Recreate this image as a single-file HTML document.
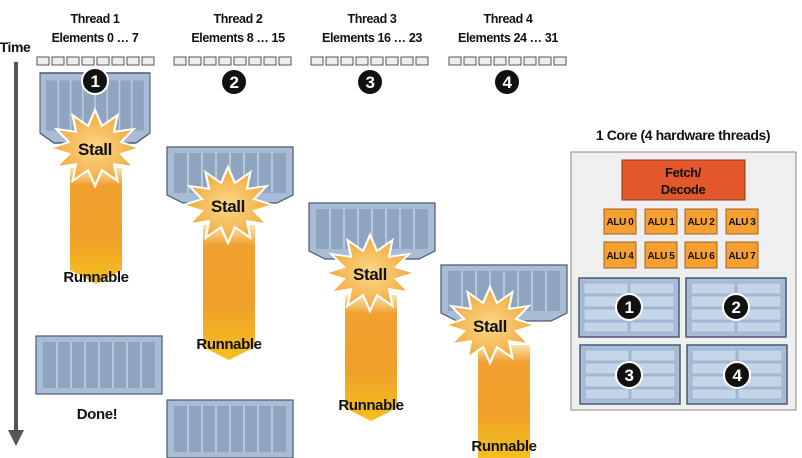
<!DOCTYPE html>
<html><head><meta charset="utf-8"><style>
html,body{margin:0;padding:0;background:#fff}
svg{display:block}
text{font-family:"Liberation Sans",sans-serif;font-weight:bold;fill:#111;letter-spacing:-0.4px}
</style></head><body>
<svg width="802" height="458" viewBox="0 0 802 458" xmlns="http://www.w3.org/2000/svg">
<defs>
<linearGradient id="bar" x1="0" y1="0" x2="0" y2="1">
<stop offset="0" stop-color="#fbe3b0"/><stop offset="0.15" stop-color="#f0a030"/><stop offset="0.6" stop-color="#f0a028"/><stop offset="1" stop-color="#f5c020"/>
</linearGradient>
<radialGradient id="st" cx="0.5" cy="0.5" r="0.5">
<stop offset="0" stop-color="#fbd98a"/><stop offset="1" stop-color="#f1a83a"/>
</radialGradient>
<g id="star"><polygon points="40,0 23.2,6.2 34.6,20 17,17 20,34.6 6.2,23.2 0,40 -6.2,23.2 -20,34.6 -17,17 -34.6,20 -23.2,6.2 -40,0 -23.2,-6.2 -34.6,-20 -17,-17 -20,-34.6 -6.2,-23.2 0,-40 6.2,-23.2 20,-34.6 17,-17 34.6,-20 23.2,-6.2" fill="url(#st)" stroke="#fff" stroke-width="2" transform="scale(1.12,0.95)"/><text x="0" y="7" font-size="17" text-anchor="middle">Stall</text></g>
<g id="blk">
<path d="M0,0H126V48L110,56H16L0,48Z" fill="#a8bcd6" stroke="#4a5a70" stroke-width="1.2"/>
<rect x="7" y="6" width="112" height="40" fill="#8ea4bf"/>
<g stroke="#b7c8dd" stroke-width="2"><line x1="21" y1="6" x2="21" y2="46"/><line x1="35" y1="6" x2="35" y2="46"/><line x1="49" y1="6" x2="49" y2="46"/><line x1="63" y1="6" x2="63" y2="46"/><line x1="77" y1="6" x2="77" y2="46"/><line x1="91" y1="6" x2="91" y2="46"/><line x1="105" y1="6" x2="105" y2="46"/></g>
</g>
<g id="rect2">
<rect x="0" y="0" width="126" height="58" fill="#a8bcd6" stroke="#4a5a70" stroke-width="1.2"/>
<rect x="7" y="6" width="112" height="46" fill="#8ea4bf"/>
<g stroke="#b7c8dd" stroke-width="2"><line x1="21" y1="6" x2="21" y2="52"/><line x1="35" y1="6" x2="35" y2="52"/><line x1="49" y1="6" x2="49" y2="52"/><line x1="63" y1="6" x2="63" y2="52"/><line x1="77" y1="6" x2="77" y2="52"/><line x1="91" y1="6" x2="91" y2="52"/><line x1="105" y1="6" x2="105" y2="52"/></g>
</g>
<g id="sq"><g fill="#eee" stroke="#555" stroke-width="1"><rect x="0" y="0" width="12" height="8"/><rect x="15" y="0" width="12" height="8"/><rect x="30" y="0" width="12" height="8"/><rect x="45" y="0" width="12" height="8"/><rect x="60" y="0" width="12" height="8"/><rect x="75" y="0" width="12" height="8"/><rect x="90" y="0" width="12" height="8"/><rect x="105" y="0" width="12" height="8"/></g></g>
<g id="reg">
<rect x="0" y="0" width="100" height="59" fill="#a8bcd6" stroke="#4a5a70" stroke-width="1.5"/>
<g fill="#c5d5e8" stroke="#98aecb" stroke-width="0.8">
<rect x="5" y="5" width="44" height="11"/><rect x="51" y="5" width="44" height="11"/>
<rect x="5" y="18" width="44" height="11"/><rect x="51" y="18" width="44" height="11"/>
<rect x="5" y="31" width="44" height="11"/><rect x="51" y="31" width="44" height="11"/>
<rect x="5" y="44" width="44" height="10"/><rect x="51" y="44" width="44" height="10"/>
</g></g>
</defs>

<text x="15" y="52" font-size="14" text-anchor="middle">Time</text>
<line x1="16" y1="62" x2="16" y2="432" stroke="#555" stroke-width="4"/>
<polygon points="8,430 24,430 16,446" fill="#555"/>

<g font-size="12.5" text-anchor="middle">
<text x="95" y="23">Thread 1</text><text x="95" y="42">Elements 0 … 7</text>
<text x="238" y="23">Thread 2</text><text x="238" y="42">Elements 8 … 15</text>
<text x="372" y="23">Thread 3</text><text x="372" y="42">Elements 16 … 23</text>
<text x="508" y="23">Thread 4</text><text x="508" y="42">Elements 24 … 31</text>
</g>
<use href="#sq" x="37" y="57"/><use href="#sq" x="174" y="57"/><use href="#sq" x="311" y="57"/><use href="#sq" x="449" y="57"/>

<path d="M70,168H122V270L96,284L70,270Z" fill="url(#bar)"/>
<use href="#blk" transform="translate(40,73) scale(0.873,1.25)"/>
<use href="#star" x="95" y="148"/>
<text x="96" y="282" font-size="15" text-anchor="middle">Runnable</text>
<use href="#rect2" x="36" y="336"/>
<text x="97" y="419" font-size="15" text-anchor="middle">Done!</text>

<path d="M203,225H255V347L229,360L203,347Z" fill="url(#bar)"/>
<use href="#blk" x="167" y="147"/>
<use href="#star" x="228" y="205"/>
<text x="229" y="349" font-size="15" text-anchor="middle">Runnable</text>
<use href="#rect2" x="167" y="400"/>

<path d="M345,295H397V408L371,421L345,408Z" fill="url(#bar)"/>
<use href="#blk" x="309" y="203"/>
<use href="#star" x="370" y="273"/>
<text x="371" y="410" font-size="15" text-anchor="middle">Runnable</text>

<path d="M478,345H530V458H478Z" fill="url(#bar)"/>
<use href="#blk" x="441" y="265"/>
<use href="#star" x="490" y="325"/>
<text x="504" y="451" font-size="15" text-anchor="middle">Runnable</text>

<g fill="#111" stroke="#fff" stroke-width="2">
<circle cx="95" cy="81" r="13"/><circle cx="234" cy="82" r="13"/><circle cx="370" cy="82" r="13"/><circle cx="507" cy="82" r="13"/>
</g>
<g font-size="17" text-anchor="middle">
<text x="95" y="87" style="fill:#fff">1</text><text x="234" y="88" style="fill:#fff">2</text><text x="370" y="88" style="fill:#fff">3</text><text x="507" y="88" style="fill:#fff">4</text>
</g>

<text x="683" y="140" font-size="14" text-anchor="middle">1 Core (4 hardware threads)</text>
<rect x="571" y="152" width="225" height="258" fill="#efefef" stroke="#999" stroke-width="1.2"/>
<rect x="622" y="160" width="123" height="40" fill="#e2582a" stroke="#8a3a1a"/>
<text x="683" y="177" font-size="13" text-anchor="middle">Fetch/</text>
<text x="683" y="194" font-size="13" text-anchor="middle">Decode</text>
<g fill="#f5a030" stroke="#a06020">
<rect x="604" y="209" width="32" height="25"/><rect x="645" y="209" width="32" height="25"/><rect x="685" y="209" width="32" height="25"/><rect x="726" y="209" width="32" height="25"/>
<rect x="604" y="242" width="32" height="26"/><rect x="645" y="242" width="32" height="26"/><rect x="685" y="242" width="32" height="26"/><rect x="726" y="242" width="32" height="26"/>
</g>
<g font-size="10" text-anchor="middle">
<text x="620" y="225">ALU 0</text><text x="661" y="225">ALU 1</text><text x="701" y="225">ALU 2</text><text x="742" y="225">ALU 3</text>
<text x="620" y="259">ALU 4</text><text x="661" y="259">ALU 5</text><text x="701" y="259">ALU 6</text><text x="742" y="259">ALU 7</text>
</g>
<use href="#reg" x="579" y="278"/><use href="#reg" x="686" y="278"/>
<use href="#reg" x="580" y="345"/><use href="#reg" x="687" y="345"/>
<g fill="#111" stroke="#fff" stroke-width="2">
<circle cx="629" cy="307" r="13"/><circle cx="736" cy="307" r="13"/><circle cx="629" cy="375" r="13"/><circle cx="737" cy="375" r="13"/>
</g>
<g font-size="17" text-anchor="middle">
<text x="629" y="313" style="fill:#fff">1</text><text x="736" y="313" style="fill:#fff">2</text><text x="629" y="381" style="fill:#fff">3</text><text x="737" y="381" style="fill:#fff">4</text>
</g>
</svg>
</body></html>
